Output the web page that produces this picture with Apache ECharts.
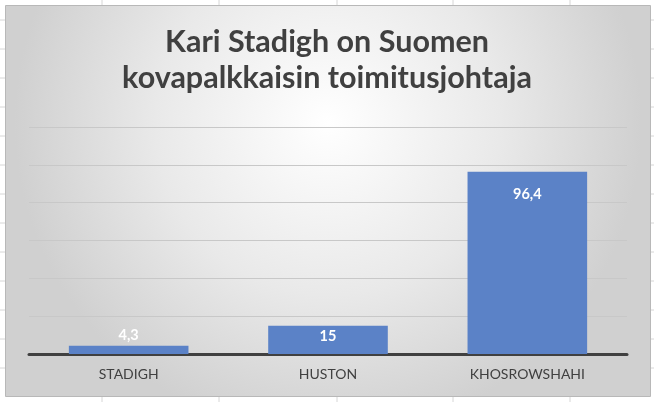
<!DOCTYPE html>
<html>
<head>
<meta charset="utf-8">
<script src="https://cdn.jsdelivr.net/npm/echarts@6/dist/echarts.min.js"></script>
<style>
  html, body { margin: 0; padding: 0; background: #fff; }
  #chart { width: 654px; height: 402px; }
</style>
</head>
<body>
<div id="chart"></div>
<script>
let titleLines = ["Kari Stadigh on Suomen", "kovapalkkaisin toimitusjohtaja"];
let categories = ["STADIGH", "HUSTON", "KHOSROWSHAHI"];
let salaries = [4.3, 15, 96.4];
let sheetCols = [102, 219, 337, 453, 570];
let sheetRows = [20, 49, 78, 107, 136, 165, 194, 223, 252, 281, 310, 339, 368];

let chart = echarts.init(document.getElementById('chart'), null, {
  renderer: 'canvas'
});

// excel cell grid behind the chart object
let sheet = [];
sheetCols.forEach(function(x) {
  sheet.push({ type: 'line', z: -20, shape: { x1: x, y1: 0, x2: x, y2: 402 },
    style: { stroke: '#d6d6d6', lineWidth: 1 } });
});
sheetRows.forEach(function(y) {
  sheet.push({ type: 'line', z: -20, shape: { x1: 0, y1: y, x2: 654, y2: y },
    style: { stroke: '#d6d6d6', lineWidth: 1 } });
});
sheet.push({
  type: 'rect', z: -10,
  shape: { x: 5.5, y: 5.5, width: 645, height: 391 },
  style: {
    fill: new echarts.graphic.RadialGradient(0.5, 0.3, 0.8, [
      { offset: 0, color: '#ffffff' },
      { offset: 0.55, color: '#e9e9e9' },
      { offset: 1, color: '#d0d0d0' }
    ]),
    stroke: '#b8b8b8', lineWidth: 1
  }
});

function fmt(v) {
  return String(v).replace('.', ',');
}

// excel keeps small-bar labels above, big ones inside end
let barData = salaries.map(function(v, i) {
  let lab;
  if (i === 0) lab = { position: 'top', distance: 3 };
  else if (i === 1) lab = { position: 'insideTop', distance: 3 };
  else lab = { position: 'insideTop', distance: 15 };
  return { value: v, label: lab };
});

let option = {
  animation: false,
  backgroundColor: '#ffffff',
  graphic: sheet,
  title: {
    text: titleLines.join('\n'),
    left: 'center',
    top: 19,
    textStyle: {
      fontFamily: 'Lato',
      fontWeight: 'bold',
      fontSize: 30.5,
      lineHeight: 36,
      color: '#404040'
    }
  },
  grid: {
    left: 29,
    right: 27,
    top: 127,
    bottom: 48
  },
  xAxis: {
    type: 'category',
    data: categories,
    axisLine: { lineStyle: { color: '#404040', width: 3 } },
    axisTick: { show: false },
    axisLabel: {
      margin: 13,
      fontFamily: 'Lato',
      fontSize: 14,
      color: '#404040'
    }
  },
  yAxis: {
    type: 'value',
    min: 0,
    max: 120,
    interval: 20,
    axisLine: { show: false },
    axisTick: { show: false },
    axisLabel: { show: false },
    splitLine: { lineStyle: { color: '#c8c8c8', width: 1 } }
  },
  series: [{
    type: 'bar',
    data: barData,
    barWidth: '60%',
    itemStyle: { color: '#5b82c7' },
    label: {
      show: true,
      color: '#ffffff',
      fontFamily: 'Lato',
      fontWeight: 'bold',
      fontSize: 14.5,
      formatter: function(p) { return fmt(p.value); }
    }
  }]
};
chart.setOption(option);
</script>
</body>
</html>
